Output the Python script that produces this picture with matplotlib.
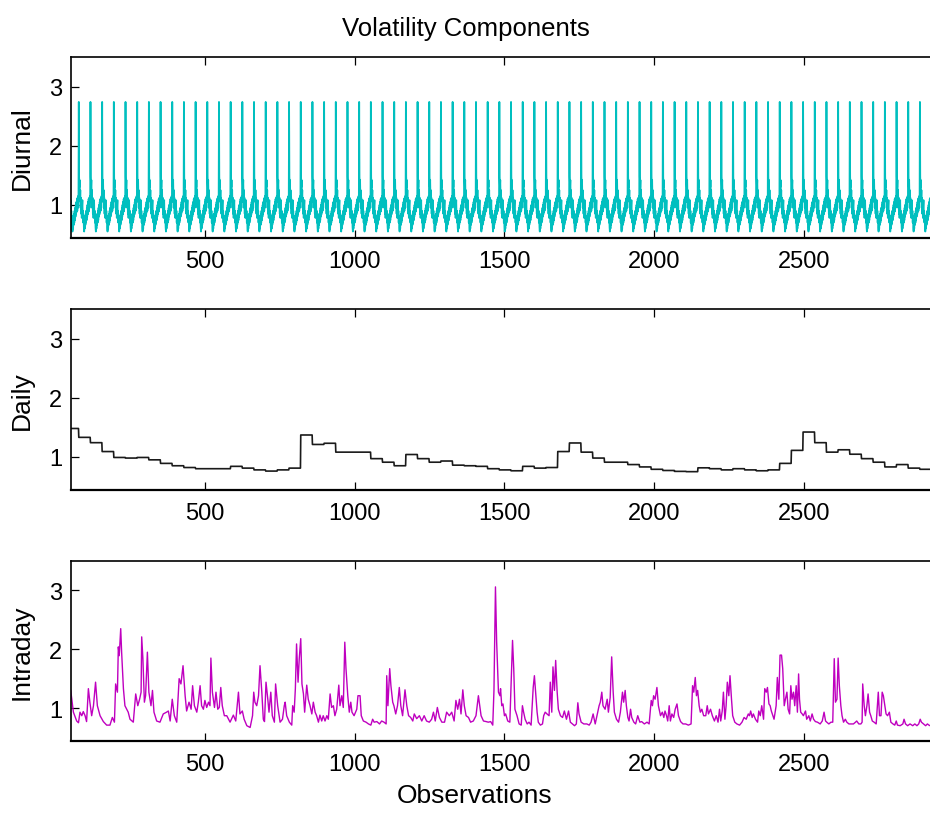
import numpy as np
import matplotlib
matplotlib.use("Agg")
import matplotlib.pyplot as plt

plt.rcParams['font.family'] = ['Liberation Sans', 'DejaVu Sans']

# ---------------- data ----------------
obs_per_day = 39
first_obs = 40
n_days = 74

# one day of the (periodic) diurnal component, 39 intervals
diurnal_day = [2.74, 1.48, 1.30, 1.42, 1.10, 1.25, 0.95, 1.12, 0.85, 1.05,
               0.78, 0.98, 1.08, 0.80, 0.90, 0.70, 0.82, 0.62, 0.55, 0.68,
               0.60, 0.78, 0.66, 0.85, 0.70, 0.90, 0.74, 0.95, 0.80, 1.00,
               0.84, 1.05, 0.88, 1.10, 0.90, 1.12, 0.95, 1.15, 1.05]

# daily component, one level per day (days 1..74)
daily_levels = [1.48, 1.33, 1.24, 1.09, 0.99, 0.98, 0.99, 0.95, 0.89, 0.85,
                0.82, 0.80, 0.80, 0.80, 0.84, 0.81, 0.78, 0.76, 0.78, 0.81,
                1.37, 1.21, 1.23, 1.08, 1.08, 1.08, 0.97, 0.91, 0.85, 1.04,
                0.97, 0.91, 0.93, 0.86, 0.85, 0.84, 0.80, 0.78, 0.765, 0.84,
                0.81, 0.82, 1.09, 1.235, 1.08, 0.98, 0.91, 0.91, 0.87, 0.83,
                0.79, 0.77, 0.755, 0.75, 0.815, 0.80, 0.78, 0.80, 0.78, 0.765,
                0.78, 0.89, 1.11, 1.42, 1.24, 1.08, 1.12, 1.045, 0.97, 0.91,
                0.83, 0.87, 0.81, 0.79]

# intraday component (observation index, value)
intraday_obs = [
    52, 61, 72, 78, 83, 89, 94, 100, 105, 111, 116, 122, 128, 135, 141, 150, 161, 172, 183, 191,
    198, 202, 208, 211, 214, 219, 222, 228, 233, 244, 250, 261, 269, 276, 282, 287, 289, 293, 298, 302,
    308, 313, 320, 325, 330, 339, 350, 361, 372, 378, 384, 391, 398, 406, 414, 420, 427, 434, 439, 447,
    454, 459, 465, 473, 478, 484, 489, 495, 500, 506, 512, 517, 520, 525, 532, 537, 543, 548, 553, 558,
    565, 573, 584, 595, 603, 612, 617, 625, 631, 640, 651, 659, 663, 667, 673, 679, 684, 690, 695, 699,
    704, 710, 714, 720, 725, 732, 736, 743, 751, 759, 765, 768, 773, 782, 790, 793, 798, 802, 806, 811,
    815, 820, 824, 829, 833, 840, 845, 851, 857, 862, 868, 873, 879, 884, 890, 895, 901, 907, 912, 918,
    923, 929, 934, 940, 947, 951, 957, 962, 967, 971, 977, 982, 987, 991, 998, 1007, 1011, 1018, 1022, 1029,
    1038, 1046, 1054, 1060, 1065, 1074, 1083, 1090, 1098, 1105, 1107, 1111, 1117, 1121, 1127, 1131, 1137, 1143, 1149, 1154,
    1160, 1168, 1174, 1180, 1187, 1194, 1199, 1207, 1216, 1224, 1232, 1240, 1249, 1257, 1263, 1269, 1276, 1283, 1291, 1300,
    1307, 1316, 1324, 1332, 1338, 1344, 1350, 1355, 1361, 1366, 1372, 1380, 1387, 1396, 1405, 1413, 1416, 1422, 1430, 1439,
    1446, 1454, 1461, 1465, 1470, 1474, 1480, 1485, 1487, 1491, 1495, 1500, 1504, 1511, 1518, 1522, 1527, 1531, 1535, 1542,
    1549, 1556, 1560, 1564, 1569, 1576, 1582, 1589, 1596, 1600, 1605, 1609, 1613, 1620, 1627, 1631, 1636, 1642, 1649, 1653,
    1658, 1662, 1667, 1671, 1676, 1680, 1687, 1694, 1700, 1707, 1714, 1720, 1727, 1734, 1740, 1745, 1749, 1756, 1765, 1775,
    1783, 1789, 1796, 1803, 1809, 1816, 1820, 1825, 1829, 1836, 1843, 1847, 1853, 1858, 1863, 1867, 1874, 1881, 1887, 1894,
    1898, 1903, 1907, 1912, 1916, 1921, 1925, 1932, 1938, 1945, 1952, 1958, 1967, 1976, 1983, 1990, 1994, 1998, 2003, 2009,
    2014, 2021, 2027, 2032, 2036, 2041, 2045, 2050, 2054, 2059, 2065, 2070, 2076, 2081, 2088, 2096, 2105, 2114, 2123, 2128,
    2132, 2137, 2141, 2145, 2150, 2154, 2159, 2165, 2172, 2177, 2181, 2188, 2194, 2201, 2207, 2213, 2218, 2222, 2227, 2231,
    2236, 2240, 2244, 2249, 2253, 2258, 2262, 2269, 2276, 2285, 2293, 2300, 2307, 2314, 2318, 2322, 2327, 2331, 2338, 2345,
    2349, 2354, 2359, 2365, 2369, 2374, 2378, 2383, 2387, 2391, 2396, 2400, 2407, 2411, 2416, 2420, 2425, 2429, 2434, 2438,
    2443, 2447, 2452, 2456, 2460, 2465, 2469, 2474, 2478, 2482, 2485, 2489, 2494, 2498, 2505, 2509, 2516, 2521, 2527, 2532,
    2538, 2545, 2554, 2561, 2567, 2572, 2576, 2583, 2590, 2596, 2601, 2605, 2610, 2614, 2618, 2623, 2627, 2632, 2638, 2643,
    2650, 2656, 2665, 2672, 2676, 2683, 2690, 2694, 2696, 2701, 2705, 2710, 2714, 2719, 2723, 2728, 2734, 2741, 2748, 2752,
    2757, 2761, 2765, 2770, 2774, 2779, 2785, 2790, 2797, 2803, 2808, 2812, 2821, 2830, 2834, 2839, 2846, 2854, 2863, 2870,
    2877, 2883, 2888, 2892, 2899, 2906, 2912, 2917, 2921, 2925]
intraday_val = [
    1.30, 0.93, 0.78, 0.75, 0.93, 0.87, 0.94, 0.87, 0.77, 1.33, 1.10, 0.87, 1.04, 1.44, 1.04, 0.87, 0.77, 0.71, 0.71, 0.84,
    0.76, 1.41, 1.27, 2.04, 1.89, 2.35, 1.95, 1.33, 1.04, 0.93, 0.81, 0.76, 1.24, 1.04, 1.15, 1.27, 2.21, 1.84, 1.10, 1.21,
    1.95, 1.27, 1.04, 1.30, 0.93, 0.78, 0.76, 0.90, 0.93, 0.95, 0.78, 1.15, 0.87, 0.76, 1.50, 1.41, 1.72, 1.21, 0.95, 1.10,
    0.98, 1.38, 1.04, 0.93, 1.10, 1.38, 1.04, 0.98, 1.13, 1.01, 1.10, 1.04, 1.85, 1.27, 1.01, 1.27, 0.98, 1.01, 1.35, 1.04,
    0.87, 0.87, 0.76, 0.88, 0.78, 1.27, 0.90, 0.95, 0.81, 0.70, 0.67, 0.87, 1.27, 1.10, 1.04, 1.21, 1.72, 1.27, 0.81, 0.77,
    1.44, 1.15, 0.93, 1.27, 0.87, 0.76, 1.41, 1.04, 0.76, 0.81, 1.04, 1.10, 0.87, 0.76, 0.71, 1.04, 0.93, 1.33, 2.09, 1.44,
    1.84, 2.18, 1.41, 1.24, 0.93, 1.39, 1.15, 1.04, 0.90, 1.10, 0.93, 0.87, 0.76, 0.88, 0.78, 0.87, 0.78, 0.87, 0.81, 1.24,
    1.01, 1.04, 0.87, 0.98, 1.39, 1.04, 1.21, 1.01, 2.12, 1.67, 1.21, 0.93, 1.10, 0.93, 0.87, 0.98, 1.21, 1.21, 0.87, 0.78,
    0.76, 0.73, 0.71, 0.81, 0.76, 0.77, 0.73, 0.78, 0.76, 0.73, 1.55, 1.04, 1.67, 1.38, 1.10, 1.04, 0.90, 1.04, 1.35, 1.04,
    0.87, 1.31, 1.04, 0.87, 0.84, 0.78, 0.90, 0.82, 0.87, 0.78, 0.87, 0.78, 0.76, 0.81, 0.93, 0.78, 1.01, 0.84, 0.76, 0.76,
    0.93, 0.87, 0.93, 0.78, 1.13, 0.98, 1.15, 0.90, 1.31, 1.04, 0.87, 0.84, 0.76, 0.78, 0.87, 1.21, 1.10, 0.87, 0.78, 0.77,
    0.76, 0.77, 0.71, 1.30, 3.06, 2.12, 1.27, 1.21, 1.33, 1.04, 1.07, 0.87, 0.90, 0.78, 0.76, 1.38, 2.15, 1.67, 0.98, 0.87,
    0.73, 0.71, 1.04, 0.93, 0.81, 0.73, 0.76, 0.71, 1.35, 1.55, 1.21, 0.93, 0.76, 0.71, 0.73, 0.87, 0.93, 0.90, 0.87, 1.44,
    0.93, 1.70, 1.30, 1.81, 1.27, 0.98, 0.87, 0.84, 0.95, 0.81, 0.95, 0.76, 0.73, 0.70, 0.73, 1.09, 0.90, 0.76, 0.73, 0.73,
    0.71, 0.76, 0.90, 0.73, 0.87, 1.04, 1.10, 1.27, 1.04, 0.98, 1.15, 0.93, 1.18, 1.87, 1.27, 0.93, 0.81, 0.76, 0.93, 1.27,
    1.10, 1.30, 1.04, 0.84, 0.78, 0.98, 0.84, 0.76, 0.73, 0.87, 0.76, 0.77, 0.73, 0.76, 0.73, 1.13, 1.04, 1.21, 1.15, 1.35,
    1.04, 0.87, 0.93, 0.84, 0.95, 0.87, 0.78, 1.04, 0.78, 0.90, 0.84, 0.98, 1.07, 0.87, 0.77, 0.73, 0.73, 0.71, 0.73, 1.38,
    1.27, 1.52, 1.21, 1.30, 1.04, 0.93, 0.98, 0.87, 0.87, 1.04, 0.90, 0.98, 0.87, 0.78, 0.87, 0.76, 0.98, 0.78, 0.95, 1.27,
    0.81, 1.04, 1.44, 1.21, 1.55, 1.15, 0.87, 0.76, 0.73, 0.71, 0.76, 0.84, 0.81, 0.90, 0.87, 0.95, 0.84, 0.90, 0.81, 0.76,
    0.95, 0.87, 1.04, 0.81, 1.33, 1.27, 1.35, 1.07, 1.04, 0.95, 0.87, 0.81, 1.04, 1.52, 1.15, 1.90, 1.90, 1.67, 1.04, 1.15,
    1.27, 0.98, 0.90, 1.38, 1.15, 1.27, 1.04, 1.38, 0.93, 1.58, 1.15, 0.93, 0.90, 0.87, 0.95, 0.81, 0.87, 0.78, 0.90, 0.81,
    0.77, 0.76, 0.73, 0.78, 0.93, 0.78, 0.76, 0.73, 0.76, 0.76, 1.84, 1.10, 1.15, 1.85, 1.38, 1.04, 0.87, 0.76, 0.81, 0.76,
    0.73, 0.73, 0.73, 0.76, 0.78, 0.73, 0.73, 0.76, 1.41, 1.04, 0.87, 1.04, 1.24, 0.93, 0.87, 0.78, 0.76, 0.73, 1.27, 0.87,
    0.87, 1.27, 1.21, 1.04, 0.90, 0.87, 0.93, 0.76, 0.73, 0.71, 0.78, 0.71, 0.70, 0.73, 0.81, 0.73, 0.70, 0.73, 0.70, 0.73,
    0.70, 0.73, 0.81, 0.76, 0.73, 0.70, 0.73, 0.71, 0.70, 0.70]

x_ticks = [500, 1000, 1500, 2000, 2500]
y_ticks = [1, 2, 3]
panel_labels = ['Diurnal', 'Daily', 'Intraday']
title = 'Volatility Components'
x_label = 'Observations'

# ---------------- series ----------------
obs = np.arange(first_obs, first_obs + n_days * obs_per_day)
diurnal = np.tile(diurnal_day, n_days)
daily = np.repeat(daily_levels, obs_per_day)

W, H = 930, 820
fig = plt.figure(figsize=(W / 100, H / 100), dpi=100)

ax_left = 70.7 / W
ax_w = 861.5 / W
rows = [(58, 239), (310, 491), (562, 742)]
xlim = (52, 2928)
ylim = (0.44, 3.5)

colors = ['#00BFBF', '#1a1a1a', '#BF00BF']
lws = [1.3, 1.2, 1.0]
series = [(obs, diurnal), (obs, daily), (intraday_obs, intraday_val)]

for i, (top, bot) in enumerate(rows):
    ax = fig.add_axes([ax_left, 1 - bot / H, ax_w, (bot - top) / H])
    xs, ys = series[i]
    ax.plot(xs, ys, color=colors[i], lw=lws[i])
    ax.set_xlim(*xlim)
    ax.set_ylim(*ylim)
    ax.set_xticks(x_ticks)
    ax.set_yticks(y_ticks)
    ax.tick_params(axis='both', direction='in', length=6, width=0.9,
                   labelsize=17, top=True, right=False)
    ax.tick_params(axis='x', pad=9)
    ax.tick_params(axis='y', pad=6)
    for s in ['left', 'top', 'right']:
        ax.spines[s].set_linewidth(1.2)
    ax.spines['bottom'].set_linewidth(1.6)
    ax.set_ylabel(panel_labels[i], fontsize=19, va='center')
    ax.yaxis.set_label_coords((22 - 70.7) / 861.5, 0.5)

fig.text(466 / W, 1 - 29 / H, title, ha='center', va='center', fontsize=18.5)
fig.text(475 / W, 1 - 796 / H, x_label, ha='center', va='center', fontsize=19)

fig.savefig('out.png', dpi=100)
